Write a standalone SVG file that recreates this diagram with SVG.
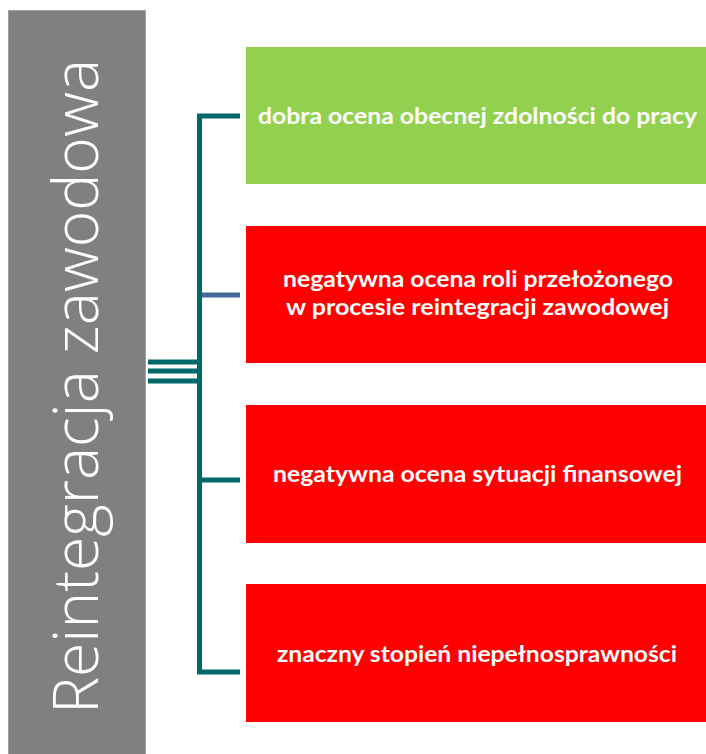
<svg xmlns="http://www.w3.org/2000/svg" width="706" height="754" viewBox="0 0 706 754">
<style>
.lbl{font-family:Lato,"Open Sans","Liberation Sans",sans-serif;font-weight:bold;font-size:23px;fill:#fff}
.title{font-family:"Open Sans","Liberation Sans",sans-serif;font-weight:300;font-size:63px;fill:#fff}
.conn{stroke:#006868;stroke-width:5;fill:none}
</style>
<rect x="0" y="0" width="706" height="754" fill="#fff"/>
<g id="title">
<rect x="8.5" y="10.5" width="137" height="750" fill="#808080" stroke="#a0a0a0" stroke-width="1"/>
<text class="title" transform="translate(98,714) rotate(-90)" x="0" y="0" textLength="655" lengthAdjust="spacingAndGlyphs">Reintegracja zawodowa</text>
</g>
<g id="connectors">
<path class="conn" d="M240,116 H199.5 V672 H240"/>
<path class="conn" d="M199.5,480 H240"/>
<path d="M202,295 H240" stroke="#44699A" stroke-width="5" fill="none"/>
<path class="conn" d="M148,362 H199 M148,371 H199 M148,381 H199"/>
</g>
<g id="node1">
<rect x="246" y="47" width="460" height="137" fill="#92D050"/>
<text class="lbl" x="258" y="124" textLength="439" lengthAdjust="spacingAndGlyphs">dobra ocena obecnej zdolności do pracy</text>
</g>
<g id="node2">
<rect x="246" y="226" width="460" height="137" fill="#FF0000"/>
<text class="lbl" x="283" y="287" textLength="390" lengthAdjust="spacingAndGlyphs">negatywna ocena roli przełożonego</text>
<text class="lbl" x="286" y="315" textLength="383" lengthAdjust="spacingAndGlyphs">w procesie reintegracji zawodowej</text>
</g>
<g id="node3">
<rect x="246" y="405" width="460" height="138" fill="#FF0000"/>
<text class="lbl" x="273" y="482" textLength="409" lengthAdjust="spacingAndGlyphs">negatywna ocena sytuacji finansowej</text>
</g>
<g id="node4">
<rect x="246" y="584" width="460" height="138" fill="#FF0000"/>
<text class="lbl" x="277" y="662" textLength="400" lengthAdjust="spacingAndGlyphs">znaczny stopień niepełnosprawności</text>
</g>
</svg>
